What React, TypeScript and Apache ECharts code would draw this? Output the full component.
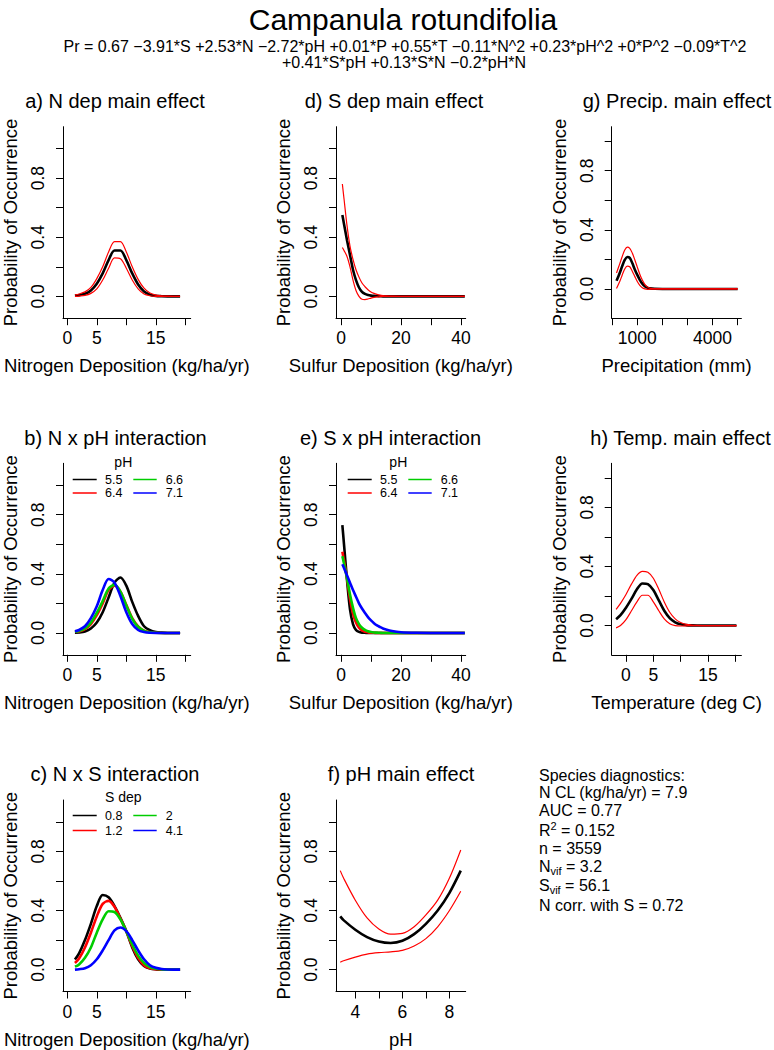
import React, { useEffect, useRef } from "react";
import * as echarts from "echarts";

const FONT = "'Liberation Sans', Arial, Helvetica, sans-serif";

// ---------- text ----------
const mainTitle = "Campanula rotundifolia";
const eqLine1 = "Pr = 0.67 \u22123.91*S +2.53*N \u22122.72*pH +0.01*P +0.55*T \u22120.11*N^2 +0.23*pH^2 +0*P^2 \u22120.09*T^2";
const eqLine2 = "+0.41*S*pH +0.13*S*N \u22120.2*pH*N";
const yName = "Probability of Occurrence";
const nName = "Nitrogen Deposition (kg/ha/yr)";
const sName = "Sulfur Deposition (kg/ha/yr)";
const pName = "Precipitation (mm)";
const tName = "Temperature (deg C)";
const phName = "pH";
const panelTitles = [
  "a) N dep main effect", "b) N x pH interaction", "c) N x S interaction",
  "d) S dep main effect", "e) S x pH interaction", "f) pH main effect",
  "g) Precip. main effect", "h) Temp. main effect",
];
const pHLevels = ["5.5", "6.4", "6.6", "7.1"];
const sDepLevels = ["0.8", "1.2", "2", "4.1"];

// ---------- tick values ----------
const probTicks = [0, 0.2, 0.4, 0.6, 0.8, 1.0];
const probLabels = [0, 0.4, 0.8];
const nTicks = [0, 5, 10, 15, 20];
const nLabels = [0, 5, 15];
const sTicks = [0, 10, 20, 30, 40];
const sLabels = [0, 20, 40];
const pTicks = [0, 1000, 2000, 3000, 4000, 5000];
const pLabels = [1000, 4000];
const tTicks = [0, 5, 10, 15, 20];
const tLabels = [0, 5, 15];
const phTicks = [4, 5, 6, 7, 8];
const phLabels = [4, 6, 8];

// ---------- data ----------
const nX = [1.3, 2, 3, 4, 5, 6, 7, 8, 9, 10, 11, 12, 13, 14, 15, 16, 17, 18, 19.1];
// a) N main effect
const aMean = [0.005, 0.008, 0.017, 0.04, 0.085, 0.155, 0.245, 0.31, 0.31, 0.245, 0.155, 0.08, 0.033, 0.011, 0.003, 0.001, 0, 0, 0];
const aUpper = [0.01, 0.016, 0.03, 0.06, 0.12, 0.2, 0.3, 0.37, 0.37, 0.3, 0.2, 0.115, 0.055, 0.022, 0.008, 0.003, 0.001, 0, 0];
const aLower = [0, 0.002, 0.006, 0.02, 0.05, 0.11, 0.19, 0.26, 0.255, 0.19, 0.11, 0.05, 0.016, 0.004, 0, 0, 0, 0, 0];
// b) N x pH
const bPH55 = [0.002, 0.003, 0.01, 0.03, 0.07, 0.14, 0.24, 0.34, 0.375, 0.32, 0.21, 0.115, 0.045, 0.018, 0.006, 0.002, 0, 0, 0];
const bPH64 = [0.006, 0.01, 0.025, 0.06, 0.12, 0.2, 0.29, 0.32, 0.28, 0.19, 0.1, 0.045, 0.016, 0.005, 0.001, 0, 0, 0, 0];
const bPH66 = [0.008, 0.013, 0.03, 0.07, 0.135, 0.215, 0.3, 0.325, 0.28, 0.185, 0.095, 0.04, 0.014, 0.004, 0.001, 0, 0, 0, 0];
const bPH71 = [0.012, 0.02, 0.045, 0.1, 0.18, 0.29, 0.365, 0.34, 0.25, 0.14, 0.06, 0.02, 0.006, 0.001, 0, 0, 0, 0, 0];
// c) N x S
const cS08 = [0.068, 0.11, 0.2, 0.31, 0.43, 0.505, 0.49, 0.43, 0.35, 0.26, 0.15, 0.07, 0.025, 0.008, 0.002, 0, 0, 0, 0];
const cS12 = [0.045, 0.075, 0.15, 0.25, 0.36, 0.445, 0.465, 0.425, 0.345, 0.26, 0.16, 0.08, 0.03, 0.01, 0.003, 0, 0, 0, 0];
const cS2 = [0.02, 0.035, 0.08, 0.15, 0.25, 0.34, 0.395, 0.39, 0.34, 0.26, 0.17, 0.095, 0.045, 0.018, 0.006, 0.002, 0, 0, 0];
const cS41 = [0, 0.003, 0.01, 0.03, 0.07, 0.13, 0.2, 0.265, 0.285, 0.26, 0.2, 0.13, 0.07, 0.03, 0.012, 0.004, 0.001, 0, 0];

const sX = [0.45, 1, 2, 3, 4, 5, 6, 7, 8, 9, 10, 11, 12, 13, 14, 15, 17, 20, 25, 30, 35, 41.3];
// d) S main effect
const dMean = [0.55, 0.49, 0.38, 0.28, 0.18, 0.11, 0.06, 0.03, 0.016, 0.009, 0.005, 0.003, 0.002, 0.001, 0, 0, 0, 0, 0, 0, 0, 0];
const dUpper = [0.76, 0.66, 0.48, 0.34, 0.25, 0.18, 0.13, 0.09, 0.065, 0.045, 0.03, 0.02, 0.013, 0.008, 0.005, 0.003, 0.001, 0, 0, 0, 0, 0];
const dLower = [0.33, 0.31, 0.27, 0.2, 0.11, 0.04, 0, -0.02, -0.022, -0.018, -0.012, -0.007, -0.004, -0.002, -0.001, 0, 0, 0, 0, 0, 0, 0];
// e) S x pH
const ePH55 = [0.73, 0.6, 0.36, 0.16, 0.06, 0.02, 0.007, 0.002, 0.001, 0, 0, 0, 0, 0, 0, 0, 0, 0, 0, 0, 0, 0];
const ePH64 = [0.55, 0.49, 0.37, 0.23, 0.13, 0.07, 0.035, 0.017, 0.008, 0.004, 0.002, 0.001, 0, 0, 0, 0, 0, 0, 0, 0, 0, 0];
const ePH66 = [0.52, 0.47, 0.37, 0.26, 0.17, 0.1, 0.06, 0.035, 0.02, 0.011, 0.006, 0.003, 0.002, 0.001, 0, 0, 0, 0, 0, 0, 0, 0];
const ePH71 = [0.465, 0.44, 0.39, 0.34, 0.29, 0.245, 0.2, 0.165, 0.135, 0.107, 0.085, 0.066, 0.051, 0.04, 0.03, 0.023, 0.013, 0.005, 0.001, 0, 0, 0];

const phX = [3.36, 3.5, 4, 4.5, 5, 5.5, 6, 6.5, 7, 7.5, 8, 8.48];
// f) pH main effect
const fMean = [0.36, 0.335, 0.27, 0.22, 0.19, 0.18, 0.195, 0.24, 0.31, 0.4, 0.52, 0.67];
const fUpper = [0.67, 0.62, 0.47, 0.35, 0.275, 0.24, 0.245, 0.29, 0.37, 0.47, 0.62, 0.81];
const fLower = [0.05, 0.06, 0.085, 0.105, 0.115, 0.12, 0.13, 0.16, 0.21, 0.29, 0.4, 0.53];

const pX = [172, 300, 400, 500, 600, 700, 800, 900, 1000, 1100, 1200, 1300, 1400, 1500, 1700, 2000, 3000, 4000, 5000];
// g) Precip main effect
const gMean = [0.055, 0.108, 0.155, 0.196, 0.216, 0.21, 0.175, 0.132, 0.095, 0.062, 0.036, 0.019, 0.009, 0.004, 0.001, 0, 0, 0, 0];
const gUpper = [0.108, 0.17, 0.22, 0.263, 0.283, 0.275, 0.243, 0.198, 0.148, 0.1, 0.06, 0.031, 0.014, 0.006, 0.001, 0, 0, 0, 0];
const gLower = [0.003, 0.05, 0.095, 0.135, 0.155, 0.15, 0.12, 0.085, 0.05, 0.024, 0.008, 0, -0.003, -0.002, 0, 0, 0, 0, 0];

const tX = [-1.8, -1, 0, 1, 2, 3, 4, 5, 6, 7, 8, 9, 10, 11, 12, 13, 14, 16, 18, 20.2];
// h) Temperature main effect
const hMean = [0.043, 0.07, 0.12, 0.18, 0.245, 0.285, 0.28, 0.24, 0.17, 0.1, 0.05, 0.022, 0.008, 0.003, 0.001, 0, 0, 0, 0, 0];
const hUpper = [0.11, 0.15, 0.21, 0.28, 0.34, 0.367, 0.36, 0.32, 0.245, 0.16, 0.09, 0.045, 0.02, 0.008, 0.003, 0.001, 0, 0, 0, 0];
const hLower = [-0.016, 0, 0.04, 0.1, 0.16, 0.205, 0.205, 0.16, 0.1, 0.045, 0.012, 0, -0.003, -0.002, 0, 0, 0, 0, 0, 0];

// diagnostics
const diagHeader = "Species diagnostics:";
const diagNCL = "N CL (kg/ha/yr) = 7.9";
const diagAUC = "AUC = 0.77";
const diagR2 = "0.152";
const diagN = "n = 3559";
const diagNvif = "3.2";
const diagSvif = "56.1";
const diagCorr = "N corr. with S = 0.72";

// ---------- layout ----------
const COL_LEFT = [61, 336, 611.7];
const ROW_TOP = [126.7, 463.3, 800];
const GW = 129.7;
const GH = 191.5;

const BLACK = "#000000";
const RED = "#FF0000";
const GREEN = "#00CD00";
const BLUE = "#0000FF";
const levelColors = [BLACK, RED, GREEN, BLUE];

const pairs = (xs: number[], ys: number[]) => xs.map((x, i) => [x, ys[i]]);

export default function App() {
  const ref = useRef<HTMLDivElement | null>(null);

  useEffect(() => {
    if (!ref.current) return;
    const chart = echarts.init(ref.current, null, { renderer: "svg" });

    const panels = [
      { col: 0, row: 0, xmin: -0.72, xmax: 20.9, ymin: -0.148, ymax: 1.148, ticks: nTicks, labels: nLabels, name: nName },
      { col: 0, row: 1, xmin: -0.72, xmax: 20.9, ymin: -0.148, ymax: 1.148, ticks: nTicks, labels: nLabels, name: nName },
      { col: 0, row: 2, xmin: -0.72, xmax: 20.9, ymin: -0.148, ymax: 1.148, ticks: nTicks, labels: nLabels, name: nName },
      { col: 1, row: 0, xmin: -1.67, xmax: 41.6, ymin: -0.148, ymax: 1.148, ticks: sTicks, labels: sLabels, name: sName },
      { col: 1, row: 1, xmin: -1.67, xmax: 41.6, ymin: -0.148, ymax: 1.148, ticks: sTicks, labels: sLabels, name: sName },
      { col: 1, row: 2, xmin: 3.18, xmax: 8.69, ymin: -0.148, ymax: 1.148, ticks: phTicks, labels: phLabels, name: phName },
      { col: 2, row: 0, xmin: -20, xmax: 5150, ymin: -0.198, ymax: 1.098, ticks: pTicks, labels: pLabels, name: pName },
      { col: 2, row: 1, xmin: -2.61, xmax: 21.1, ymin: -0.198, ymax: 1.098, ticks: tTicks, labels: tLabels, name: tName },
    ];

    const grid = panels.map((p) => ({
      left: COL_LEFT[p.col], top: ROW_TOP[p.row], width: GW, height: GH, containLabel: false,
    }));

    const xAxis = panels.map((p, i) => ({
      type: "value", gridIndex: i, min: p.xmin, max: p.xmax,
      axisLine: { show: true, onZero: false, lineStyle: { color: BLACK, width: 1 } },
      axisTick: { show: true, length: 7, customValues: p.ticks, lineStyle: { color: BLACK, width: 1 } },
      axisLabel: {
        show: true, customValues: p.labels, margin: 11, fontSize: 17.5, color: BLACK, fontFamily: FONT,
        formatter: (v: number) => String(v),
      },
      splitLine: { show: false },
      name: p.name, nameLocation: "middle", nameGap: 38,
      nameTextStyle: { fontSize: 18.5, color: BLACK, fontFamily: FONT },
    }));

    const yAxis = panels.map((p, i) => ({
      type: "value", gridIndex: i, min: p.ymin, max: p.ymax,
      axisLine: { show: true, onZero: false, lineStyle: { color: BLACK, width: 1 } },
      axisTick: { show: true, length: 7, customValues: probTicks, lineStyle: { color: BLACK, width: 1 } },
      axisLabel: {
        show: true, customValues: probLabels, rotate: 90, margin: 16, fontSize: 17.5, color: BLACK, fontFamily: FONT,
        formatter: (v: number) => v.toFixed(1),
      },
      splitLine: { show: false },
      name: yName, nameLocation: "middle", nameGap: 43,
      nameTextStyle: { fontSize: 18.5, color: BLACK, fontFamily: FONT },
    }));

    const line = (idx: number, xs: number[], ys: number[], color: string, width: number, name: string) => ({
      type: "line", name, xAxisIndex: idx, yAxisIndex: idx,
      data: pairs(xs, ys), showSymbol: false, symbol: "none", smooth: 0.3,
      lineStyle: { color, width }, itemStyle: { color }, silent: true,
    });

    const series = [
      line(0, nX, aMean, BLACK, 2.6, "a mean"),
      line(0, nX, aUpper, RED, 1.2, "a upper"),
      line(0, nX, aLower, RED, 1.2, "a lower"),
      line(1, nX, bPH55, BLACK, 2.6, "pH 5.5 (N)"),
      line(1, nX, bPH64, RED, 2.6, "pH 6.4 (N)"),
      line(1, nX, bPH66, GREEN, 2.6, "pH 6.6 (N)"),
      line(1, nX, bPH71, BLUE, 2.6, "pH 7.1 (N)"),
      line(2, nX, cS08, BLACK, 2.6, "S 0.8"),
      line(2, nX, cS12, RED, 2.6, "S 1.2"),
      line(2, nX, cS2, GREEN, 2.6, "S 2"),
      line(2, nX, cS41, BLUE, 2.6, "S 4.1"),
      line(3, sX, dMean, BLACK, 2.6, "d mean"),
      line(3, sX, dUpper, RED, 1.2, "d upper"),
      line(3, sX, dLower, RED, 1.2, "d lower"),
      line(4, sX, ePH55, BLACK, 2.6, "pH 5.5 (S)"),
      line(4, sX, ePH64, RED, 2.6, "pH 6.4 (S)"),
      line(4, sX, ePH66, GREEN, 2.6, "pH 6.6 (S)"),
      line(4, sX, ePH71, BLUE, 2.6, "pH 7.1 (S)"),
      line(5, phX, fMean, BLACK, 2.6, "f mean"),
      line(5, phX, fUpper, RED, 1.2, "f upper"),
      line(5, phX, fLower, RED, 1.2, "f lower"),
      line(6, pX, gMean, BLACK, 2.6, "g mean"),
      line(6, pX, gUpper, RED, 1.2, "g upper"),
      line(6, pX, gLower, RED, 1.2, "g lower"),
      line(7, tX, hMean, BLACK, 2.6, "h mean"),
      line(7, tX, hUpper, RED, 1.2, "h upper"),
      line(7, tX, hLower, RED, 1.2, "h lower"),
    ];

    const txt = (text: string, x: number, y: number, size: number, align = "center", extra: any = {}) => ({
      type: "text", x, y, silent: true,
      style: {
        text, fill: BLACK, fontSize: size, fontFamily: FONT,
        align, verticalAlign: "middle", textAlign: align, textVerticalAlign: "middle", ...extra,
      },
    });

    const graphics: any[] = [];
    graphics.push(txt(mainTitle, 403, 19, 30));
    graphics.push(txt(eqLine1, 405, 46, 16));
    graphics.push(txt(eqLine2, 404, 62, 16));

    const titleCenters = [115, 115.5, 115, 394, 390.5, 401, 677, 680.5];
    const titleRowY = [101, 437.5, 774];
    panels.forEach((p, i) => {
      graphics.push(txt(panelTitles[i], titleCenters[i], titleRowY[p.row], 20));
    });

    // legends
    const addLegend = (header: string, levels: string[], dx: number, top: number, rowYs: number[]) => {
      graphics.push(txt(header, 123.3 + dx, top, 14));
      const colLine = [[72.7, 96.7], [133.3, 156.7]];
      const colText = [105, 165.7];
      levels.forEach((lv, k) => {
        const c = Math.floor(k / 2);
        const r = k % 2;
        const y = rowYs[r];
        graphics.push({
          type: "line", silent: true,
          shape: { x1: colLine[c][0] + dx, y1: y, x2: colLine[c][1] + dx, y2: y },
          style: { stroke: levelColors[k], lineWidth: 1.5 },
        });
        graphics.push(txt(lv, colText[c] + dx, y, 12.5, "left"));
      });
    };
    addLegend(phName, pHLevels, 0, 461.7, [479.5, 493]);
    addLegend(phName, pHLevels, 275, 461.7, [479.5, 493]);
    addLegend("S dep", sDepLevels, 0, 797.3, [815.5, 830.5]);

    // diagnostics
    const dx = 539;
    const rich = {
      m: { fontSize: 16, fontFamily: FONT, fill: BLACK, lineHeight: 20, verticalAlign: "middle" },
      sub: { fontSize: 11, fontFamily: FONT, fill: BLACK, lineHeight: 10, verticalAlign: "bottom" },
      sup: { fontSize: 11, fontFamily: FONT, fill: BLACK, lineHeight: 10, verticalAlign: "top" },
    };
    graphics.push(txt(diagHeader, dx, 775, 16, "left"));
    graphics.push(txt(diagNCL, dx, 792.7, 16, "left"));
    graphics.push(txt(diagAUC, dx, 810.5, 16, "left"));
    graphics.push(txt(`{m|R}{sup|2}{m| = ${diagR2}}`, dx, 830.5, 16, "left", { rich }));
    graphics.push(txt(diagN, dx, 848.3, 16, "left"));
    graphics.push(txt(`{m|N}{sub|vif}{m| = ${diagNvif}}`, dx, 866, 16, "left", { rich }));
    graphics.push(txt(`{m|S}{sub|vif}{m| = ${diagSvif}}`, dx, 885, 16, "left", { rich }));
    graphics.push(txt(diagCorr, dx, 905, 16, "left"));

    chart.setOption({
      animation: false,
      backgroundColor: "#FFFFFF",
      textStyle: { fontFamily: FONT },
      grid, xAxis, yAxis, series,
      graphic: { elements: graphics },
    });

    return () => chart.dispose();
  }, []);

  return (
    <div
      ref={ref}
      style={{ position: "absolute", left: 0, top: 0, width: 774, height: 1050, background: "#fff" }}
    />
  );
}
